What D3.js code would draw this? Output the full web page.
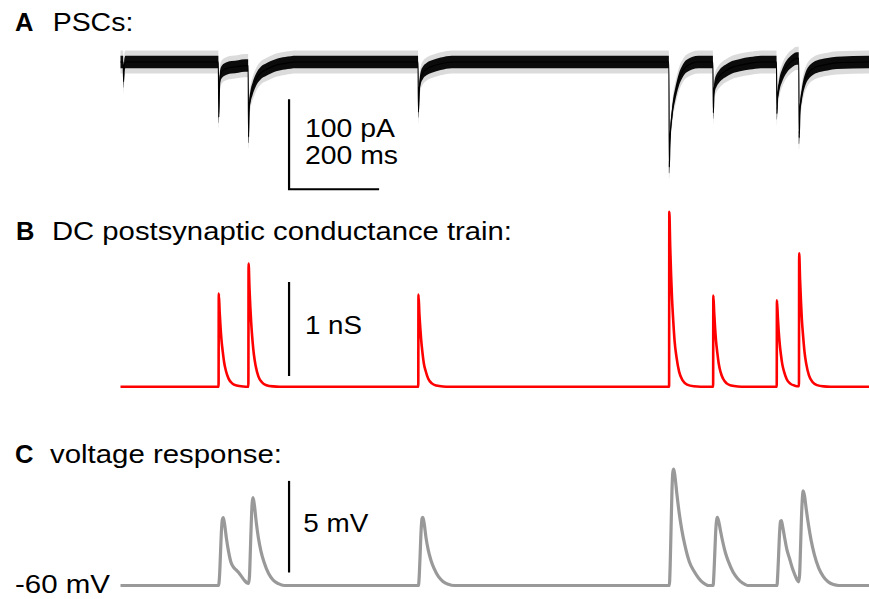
<!DOCTYPE html>
<html>
<head>
<meta charset="utf-8">
<script src="https://cdn.jsdelivr.net/npm/d3@7/dist/d3.min.js"></script>
<style>
  html, body { margin: 0; padding: 0; background: #fff; }
  svg { display: block; }
  text { font-family: "Liberation Sans", Arial, Helvetica, sans-serif; fill: #000; }
</style>
</head>
<body>
<svg id="chart" width="869" height="599"></svg>
<script>
// ---------------- DATA ----------------
// time in ms; trace duration
const timeDomain = [0, 1683];

// A: postsynaptic currents, mean current (pA) vs time (ms)
const pscTrace = [
  [0,0],[6,0],[7,-22],[8.5,-4],[11,0],
  [220,0],[221,-62],[222.5,-30],[224,-16],[228,-11],[232,-9],[240,-7],[250,-6],[265,-5],[280,-4],[287,-4],
  [288,-84],[289.5,-50],[292,-40],[297,-30],[303,-22],[308,-17],[316,-12],[326,-9],[338,-6],[350,-3.5],[370,-1.5],[395,0],
  [669,0],[670,-56],[672,-30],[675,-18],[680,-12],[688,-8],[700,-5],[720,-2],[745,0],
  [1233,0],[1234,-118],[1235.5,-90],[1237,-75],[1239.5,-62],[1243,-47],[1247,-37],[1251,-28],[1256,-19],[1262,-12],[1268,-7],[1275,-4],[1285,-1.5],[1300,0],
  [1332,0],[1333,-57],[1334.5,-33],[1337,-25],[1340,-21],[1345,-17],[1352,-13],[1362,-9.5],[1375,-6],[1393,-3.5],[1415,-1.5],[1440,0],
  [1475,0],[1476,-58],[1477.5,-38],[1480,-30],[1483,-22],[1487,-16],[1492,-10],[1498,-5],[1505,-1],[1512,2],[1520,4],[1525,4],
  [1526,-85],[1528,-52],[1531,-40],[1535,-28],[1540,-19],[1546,-13],[1553,-9],[1562,-6],[1575,-4],[1590,-2.5],[1610,-1],[1683,0]
];
// recording noise half-widths (pA): dense core and sparse fringe
const pscNoise = [7, 13];

// B: dynamic-clamp conductance train (nS) vs time (ms)
const conductanceTrace = [
  [0,0],[220.5,0],[221,0.99],[223,0.79],[225,0.63],[227,0.50],[230,0.37],[233,0.26],[237,0.17],[243,0.086],[251,0.036],[261,0.012],[276,0.002],[287.5,0],
  [288,1.31],[290,1.05],[292,0.84],[294,0.67],[297,0.48],[300,0.34],[304,0.22],[310,0.11],[318,0.047],[328,0.016],[343,0.003],[358,0],[669.5,0],
  [670,0.98],[672,0.78],[674,0.63],[676,0.50],[679,0.36],[682,0.25],[686,0.17],[692,0.085],[700,0.035],[710,0.012],[725,0.002],[740,0],[1233.5,0],
  [1234,1.86],[1236,1.49],[1238,1.19],[1240,0.95],[1243,0.69],[1246,0.48],[1250,0.32],[1256,0.16],[1264,0.067],[1274,0.022],[1289,0.004],[1304,0],[1332.5,0],
  [1333,0.97],[1335,0.78],[1337,0.62],[1339,0.49],[1342,0.36],[1345,0.25],[1349,0.16],[1355,0.084],[1363,0.035],[1373,0.012],[1388,0.002],[1403,0],[1475.5,0],
  [1476,0.92],[1478,0.74],[1480,0.59],[1482,0.47],[1485,0.34],[1488,0.24],[1492,0.16],[1498,0.08],[1506,0.033],[1516,0.011],[1525.5,0.005],
  [1526,1.42],[1528,1.14],[1530,0.91],[1532,0.72],[1535,0.53],[1538,0.37],[1542,0.24],[1548,0.12],[1556,0.051],[1566,0.017],[1581,0.003],[1596,0],[1683,0]
];

// C: membrane voltage deflection from rest (mV) vs time (ms)
const restingPotential = -60;
const voltageTrace = [
  [0,0],[220.5,0],[223,0.67],[225,1.85],[227,3.0],[229,3.6],[231,3.7],[234,3.35],[238,2.6],[243,1.85],[248,1.3],[254,1.0],[260,0.85],[266,0.7],[272,0.5],[278,0.3],[284,0.15],
  [288,0.12],[290,0.5],[292,1.9],[294,3.4],[296,4.5],[298,4.8],[301,4.4],[305,3.5],[310,2.6],[316,1.85],[323,1.25],[333,0.65],[343,0.3],[355,0.1],[368,0],
  [670,0],[672,0.67],[674,1.86],[676,3.05],[678,3.65],[680,3.72],[683,3.35],[687,2.6],[692,1.93],[698,1.38],[705,0.93],[715,0.48],[725,0.22],[737,0.07],[750,0],
  [1234,0],[1236,1.14],[1238,3.18],[1240,5.2],[1242,6.2],[1244,6.35],[1247,5.9],[1251,5.0],[1256,4.0],[1262,3.05],[1269,2.2],[1279,1.3],[1289,0.8],[1300,0.4],[1310,0.15],[1322,0],
  [1332.5,0],[1334,0.5],[1336,1.6],[1338,2.8],[1340,3.5],[1342,3.72],[1345,3.5],[1349,3.0],[1354,2.4],[1360,1.8],[1367,1.3],[1377,0.75],[1387,0.4],[1398,0.15],[1410,0],
  [1476,0],[1478,0.7],[1480,1.8],[1482,2.9],[1484,3.5],[1486,3.54],[1489,3.2],[1493,2.65],[1498,2.0],[1504,1.5],[1510,1.0],[1516,0.6],[1521,0.32],[1525,0.2],
  [1527,0.6],[1529,2.0],[1531,3.6],[1533,4.7],[1535,5.16],[1538,4.9],[1542,4.15],[1547,3.3],[1553,2.45],[1560,1.7],[1570,0.95],[1580,0.5],[1591,0.2],[1603,0.05],[1615,0],[1683,0]
];

// scale bars (data units)
const barTime = 379;          // ms, x position of vertical bars
const barA = { pA: [-43, -143], ms: 200 };
const barB = { nS: [0.114, 1.114] };
const barC = { mV: [0.71, 5.71] };

// texts
const panelLetters = ["A", "B", "C"];
const panelTitles = ["PSCs:", "DC postsynaptic conductance train:", "voltage response:"];
const barLabels = ["100 pA", "200 ms", "1 nS", "5 mV"];
const restLabel = restingPotential + " mV";

// ---------------- DRAWING ----------------
const svg = d3.select("#chart");
svg.append("rect").attr("width", 869).attr("height", 599).attr("fill", "#fff");

const x = d3.scaleLinear().domain(timeDomain).range([120.5, 869]);
const yA = d3.scaleLinear().domain([0, -100]).range([62, 151]);
const yB = d3.scaleLinear().domain([0, 1]).range([386.7, 292.7]);
const yC = d3.scaleLinear().domain([0, 5]).range([585.5, 493.9]);

// Panel A: noisy current trace as band
const bandOuter = d3.area().curve(d3.curveMonotoneX)
  .x(d => x(d[0])).y0(d => yA(d[1] - pscNoise[1])).y1(d => yA(d[1] + pscNoise[1]));
const bandInner = d3.area().curve(d3.curveMonotoneX)
  .x(d => x(d[0])).y0(d => yA(d[1] - pscNoise[0])).y1(d => yA(d[1] + pscNoise[0]));
const lineA = d3.line().curve(d3.curveMonotoneX).x(d => x(d[0])).y(d => yA(d[1]));

svg.append("path").attr("d", bandOuter(pscTrace)).attr("fill", "#000").attr("fill-opacity", 0.14);
svg.append("path").attr("d", bandInner(pscTrace)).attr("fill", "#000").attr("fill-opacity", 0.95);
svg.append("path").attr("d", lineA(pscTrace)).attr("fill", "none").attr("stroke", "#000").attr("stroke-width", 1.2);

// Panel B
const lineB = d3.line().curve(d3.curveMonotoneX).x(d => x(d[0])).y(d => yB(d[1]));
svg.append("path").attr("d", lineB(conductanceTrace)).attr("fill", "none")
  .attr("stroke", "#ff0000").attr("stroke-width", 2.6).attr("stroke-linejoin", "round");

// Panel C
const lineC = d3.line().curve(d3.curveMonotoneX).x(d => x(d[0])).y(d => yC(d[1]));
svg.append("path").attr("d", lineC(voltageTrace)).attr("fill", "none")
  .attr("stroke", "#999999").attr("stroke-width", 3.2).attr("stroke-linejoin", "round");

// Scale bars
const bar = svg.append("g").attr("stroke", "#000").attr("stroke-width", 2.2).attr("fill", "none");
bar.append("path").attr("d",
  `M${x(barTime)},${yA(barA.pA[0])}V${yA(barA.pA[1])}H${x(barTime + barA.ms)}`)
  .attr("stroke-linecap", "square");
bar.append("line").attr("x1", x(barTime)).attr("x2", x(barTime))
  .attr("y1", yB(barB.nS[0])).attr("y2", yB(barB.nS[1]));
bar.append("line").attr("x1", x(barTime)).attr("x2", x(barTime))
  .attr("y1", yC(barC.mV[0])).attr("y2", yC(barC.mV[1]));

// Texts
function txt(s, px, py, opts) {
  const t = svg.append("text").attr("x", px).attr("y", py).text(s)
    .attr("font-size", opts.size || 24);
  if (opts.bold) t.attr("font-weight", "bold");
  if (opts.w) t.attr("textLength", opts.w).attr("lengthAdjust", "spacingAndGlyphs");
  return t;
}
txt(panelLetters[0], 15, 31, { bold: true, size: 25.5 });
txt(panelLetters[1], 16, 239.5, { bold: true, size: 25.5 });
txt(panelLetters[2], 15, 463, { bold: true, size: 25.5 });

txt(panelTitles[0], 52.7, 31, { size: 26, w: 80.6 });
txt(panelTitles[1], 52, 239.5, { size: 26, w: 460 });
txt(panelTitles[2], 50, 463, { size: 26, w: 232 });

txt(barLabels[0], 305, 136.7, { size: 26, w: 90 });
txt(barLabels[1], 305, 164, { size: 26, w: 93 });
txt(barLabels[2], 305, 334, { size: 26, w: 57 });
txt(barLabels[3], 303.3, 531.7, { size: 26, w: 65 });
txt(restLabel, 15, 593, { size: 26, w: 95 });
</script>
</body>
</html>
